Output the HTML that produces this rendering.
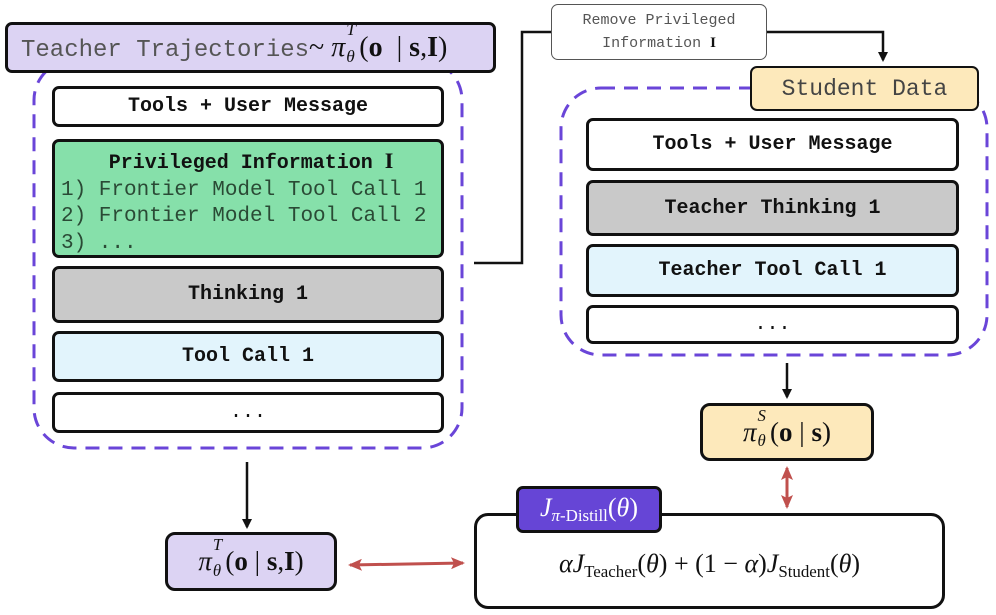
<!DOCTYPE html>
<html><head><meta charset="utf-8"><style>
body{margin:0;width:996px;height:615px;background:#fff;position:relative;overflow:hidden;font-family:"Liberation Mono",monospace}
.b{position:absolute;box-sizing:border-box;border:3px solid #111;border-radius:7px;display:flex;align-items:center;justify-content:center;font-weight:bold;font-size:20px;color:#111}
.m{font-family:"Liberation Serif",serif;font-weight:normal;white-space:nowrap}
i{font-style:italic}
.sb{font-size:65%;vertical-align:-0.3em}
.ss{display:inline-block;position:relative;width:.5em;height:1em;vertical-align:-0.15em}
.up,.dn{position:absolute;left:1px;font-size:62%;line-height:1}
.up{top:-0.6em}.dn{top:0.95em}
</style></head><body>
<svg width="996" height="615" style="position:absolute;left:0;top:0">
<defs>
<marker id="a" markerWidth="10" markerHeight="10" refX="8" refY="5" orient="auto" markerUnits="userSpaceOnUse"><path d="M0,0 L10,5 L0,10 z" fill="#111"/></marker>
<marker id="r" markerWidth="14" markerHeight="12" refX="12" refY="6" orient="auto-start-reverse" markerUnits="userSpaceOnUse"><path d="M0,0 L14,6 L0,12 L3,6 z" fill="#c0504d"/></marker>
</defs>
<rect x="34" y="60" width="428" height="388" rx="40" fill="none" stroke="#6a45d8" stroke-width="3" stroke-dasharray="14,9"/>
<rect x="561" y="88" width="426" height="267" rx="40" fill="none" stroke="#6a45d8" stroke-width="3" stroke-dasharray="14,9"/>
<polyline points="474,263 522,263 522,32 552,32" fill="none" stroke="#111" stroke-width="2.5"/>
<polyline points="766,32 883,32 883,60" fill="none" stroke="#111" stroke-width="2.5" marker-end="url(#a)"/>
<line x1="787" y1="363" x2="787" y2="397" stroke="#111" stroke-width="2.5" marker-end="url(#a)"/>
<line x1="247" y1="462" x2="247" y2="527" stroke="#111" stroke-width="2.5" marker-end="url(#a)"/>
<line x1="787" y1="468" x2="787" y2="507" stroke="#c0504d" stroke-width="3" marker-start="url(#r)" marker-end="url(#r)"/>
<line x1="350" y1="565" x2="463" y2="563" stroke="#c0504d" stroke-width="3" marker-start="url(#r)" marker-end="url(#r)"/>
</svg>
<div class="b" style="left:5px;top:22px;width:491px;height:51px;background:#dcd3f3;font-weight:normal;font-size:24px;color:#555;justify-content:flex-start;padding-left:13px"><span>Teacher Trajectories<span class="m" style="color:#111;font-size:28px">~ <i>π</i><span class="ss"><i class="up">T</i><i class="dn">θ</i></span>(<b>o</b> &nbsp;| <b>s</b>,<b>I</b>)</span></span></div>
<div class="b" style="left:52px;top:86px;width:392px;height:41px;background:#fff">Tools + User Message</div>
<div class="b" style="left:52px;top:139px;width:392px;height:119px;background:#86e0aa;display:block;padding:6px 0 0 6px;font-weight:normal;font-size:21px;line-height:26.5px;color:#2a4a35"><div style="font-weight:bold;color:#111;text-align:center;font-size:20px">Privileged Information <span class="m" style="font-weight:bold;font-size:22px">I</span></div>1) Frontier Model Tool Call 1<br>2) Frontier Model Tool Call 2<br>3) ...</div>
<div class="b" style="left:52px;top:266px;width:392px;height:57px;background:#c9c9c9">Thinking 1</div>
<div class="b" style="left:52px;top:331px;width:392px;height:51px;background:#e2f4fc">Tool Call 1</div>
<div class="b" style="left:52px;top:392px;width:392px;height:41px;background:#fff;font-weight:normal">...</div>
<div class="b" style="left:551px;top:4px;width:216px;height:56px;background:#fff;border:1.5px solid #555;font-weight:normal;font-size:15px;color:#555;flex-direction:column;line-height:23px"><span>Remove Privileged</span><span>Information <b class="m" style="color:#111;font-weight:bold">I</b></span></div>
<div class="b" style="left:750px;top:66px;width:229px;height:45px;background:#fde9bb;border-width:2px;font-weight:normal;font-size:23px;color:#444">Student Data</div>
<div class="b" style="left:586px;top:118px;width:373px;height:53px;background:#fff">Tools + User Message</div>
<div class="b" style="left:586px;top:180px;width:373px;height:56px;background:#c9c9c9">Teacher Thinking 1</div>
<div class="b" style="left:586px;top:244px;width:373px;height:53px;background:#e2f4fc">Teacher Tool Call 1</div>
<div class="b" style="left:586px;top:305px;width:373px;height:39px;background:#fff;font-weight:normal">...</div>
<div class="b" style="left:700px;top:403px;width:174px;height:58px;background:#fde9bb;border-radius:10px"><span class="m" style="font-size:27px"><i>π</i><span class="ss"><i class="up">S</i><i class="dn">θ</i></span>(<b>o</b> | <b>s</b>)</span></div>
<div class="b" style="left:474px;top:513px;width:471px;height:96px;background:#fff;border-radius:14px;padding-top:10px"><span class="m" style="font-size:26px"><i>αJ</i><span class="sb">Teacher</span>(<i>θ</i>) + (1 − <i>α</i>)<i>J</i><span class="sb">Student</span>(<i>θ</i>)</span></div>
<div class="b" style="left:516px;top:486px;width:146px;height:47px;background:#6645d6"><span class="m" style="color:#fff;font-size:26px"><i>J</i><span class="sb"><i>π</i>-Distill</span>(<i>θ</i>)</span></div>
<div class="b" style="left:165px;top:532px;width:172px;height:59px;background:#dcd3f3;border-radius:10px"><span class="m" style="font-size:27px"><i>π</i><span class="ss"><i class="up">T</i><i class="dn">θ</i></span>(<b>o</b> | <b>s</b>,<b>I</b>)</span></div>
</body></html>
